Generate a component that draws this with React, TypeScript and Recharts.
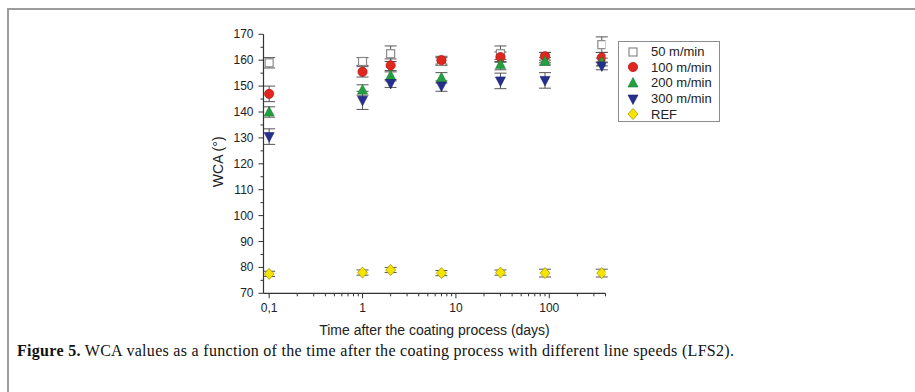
import React from 'react';
import { ScatterChart, Scatter, XAxis, YAxis, ErrorBar, Legend } from 'recharts';

// days after coating (log axis)
const days = [0.1, 1, 2, 7, 30, 90, 365];

const wca50 = [159, 159.5, 162.5, 159.5, 162.5, 161, 166];
const err50 = [2, 1.5, 3, 1.5, 3, 2, 3];
const wca100 = [147, 155.5, 158, 160, 161.2, 161.5, 161];
const err100 = [3, 2, 2.5, 1.5, 2, 1.5, 2];
const wca200 = [140, 148.5, 154, 153.2, 158.3, 159.6, 159.3];
const err200 = [2, 2, 2, 2, 2, 1.5, 1.5];
const wca300 = [130.5, 144.5, 151, 150, 152, 152.2, 157.8];
const err300 = [3, 3.5, 1.5, 2, 3, 3, 1.5];
const wcaRef = [77.5, 78, 79, 77.8, 78, 77.8, 77.8];
const errRef = [1, 1, 1, 1, 1, 1.5, 1.5];

const seriesNames = ['50 m/min', '100 m/min', '200 m/min', '300 m/min', 'REF'];

const xMajor = [0.1, 1, 10, 100];
const xMajorLabels = ['0,1', '1', '10', '100'];
const xMinor = [0.2, 0.3, 0.4, 0.5, 0.6, 0.7, 0.8, 0.9, 2, 3, 4, 5, 6, 7, 8, 9, 20, 30, 40, 50, 60, 70, 80, 90, 200, 300, 400];
const yTicks = [70, 75, 80, 85, 90, 95, 100, 105, 110, 115, 120, 125, 130, 135, 140, 145, 150, 155, 160, 165, 170];

const FONT = '"Liberation Sans", Arial, sans-serif';
const AXIS = '#333';

const build = (vals: number[], errs: number[]) =>
  days.map((d, i) => ({ x: d, y: vals[i], e: errs[i] }));

const Square = ({ cx, cy }: any) => (
  <rect x={cx - 4} y={cy - 4} width={8} height={8} fill="#fff" stroke="#8a8a8a" strokeWidth={1.2} />
);
const Dot = ({ cx, cy }: any) => (
  <circle cx={cx} cy={cy} r={4.6} fill="#e1251f" stroke="#b71c17" strokeWidth={0.8} />
);
const TriUp = ({ cx, cy }: any) => (
  <polygon points={`${cx},${cy - 5.5} ${cx + 5},${cy + 4} ${cx - 5},${cy + 4}`} fill="#22a040" stroke="#17802f" strokeWidth={0.6} />
);
const TriDown = ({ cx, cy }: any) => (
  <polygon points={`${cx},${cy + 5.5} ${cx + 5},${cy - 4} ${cx - 5},${cy - 4}`} fill="#262f8e" stroke="#1a2170" strokeWidth={0.6} />
);
const Diamond = ({ cx, cy }: any) => (
  <polygon points={`${cx},${cy - 5.5} ${cx + 5},${cy} ${cx},${cy + 5.5} ${cx - 5},${cy}`} fill="#f5e300" stroke="#a89b00" strokeWidth={0.8} />
);

const shapes = [Square, Dot, TriUp, TriDown, Diamond];

const XTick = ({ x, y, payload }: any) => {
  const idx = xMajor.indexOf(payload.value);
  const major = idx >= 0;
  return (
    <g>
      <line x1={x} x2={x} y1={y} y2={y + (major ? 5 : 3)} stroke={AXIS} />
      {major && (
        <text x={x} y={y + 19} textAnchor="middle" fontFamily={FONT} fontSize={12} fill="#222">
          {xMajorLabels[idx]}
        </text>
      )}
    </g>
  );
};

const YTick = ({ x, y, payload }: any) => {
  const major = payload.value % 10 === 0;
  return (
    <g>
      <line x1={x} x2={x - (major ? 5 : 3)} y1={y} y2={y} stroke={AXIS} />
      {major && (
        <text x={x - 10} y={y + 4} textAnchor="end" fontFamily={FONT} fontSize={12} fill="#222">
          {payload.value}
        </text>
      )}
    </g>
  );
};

const LegendBox = () => (
  <div
    style={{
      border: '1px solid #8c8c8c',
      width: 102,
      height: 81,
      boxSizing: 'border-box',
      background: '#fff',
      fontFamily: FONT,
      fontSize: 13,
      color: '#222',
      paddingTop: 2,
    }}
  >
    {seriesNames.map((name, i) => {
      const Shape = shapes[i];
      return (
        <div key={name} style={{ display: 'flex', alignItems: 'center', height: 15.6 }}>
          <svg width={32} height={14} style={{ flex: 'none' }}>
            <Shape cx={14} cy={7} />
          </svg>
          <span style={{ lineHeight: '15px' }}>{name}</span>
        </div>
      );
    })}
  </div>
);

export default function App() {
  const data = [
    build(wca50, err50),
    build(wca100, err100),
    build(wca200, err200),
    build(wca300, err300),
    build(wcaRef, errRef),
  ];

  return (
    <div style={{ position: 'absolute', left: 0, top: 0, width: 915, height: 392, background: '#fff' }}>
      <div
        style={{
          position: 'absolute',
          left: 7,
          top: 8,
          width: 908,
          height: 384,
          borderTop: '2px solid #9c9c9c',
          borderLeft: '2px solid #9c9c9c',
          boxSizing: 'border-box',
        }}
      />
      <div style={{ position: 'absolute', left: 0, top: 0 }}>
        <ScatterChart width={915} height={392} margin={{ top: 34.3, right: 309.5, bottom: 68.7, left: 219.5 }}>
          <XAxis
            type="number"
            dataKey="x"
            scale="log"
            domain={[0.087, 400]}
            allowDataOverflow
            ticks={[...xMajor, ...xMinor]}
            interval={0}
            tickSize={0}
            tickMargin={0}
            tickLine={false}
            tick={<XTick />}
            height={30}
            axisLine={{ stroke: AXIS, strokeWidth: 1.2 }}
            label={{
              content: ({ viewBox }: any) => (
                <text
                  x={viewBox.x + viewBox.width / 2}
                  y={viewBox.y + 37}
                  textAnchor="middle"
                  dominantBaseline="central"
                  fontFamily={FONT}
                  fontSize={14}
                  fill="#222"
                >
                  Time after the coating process (days)
                </text>
              ),
            }}
          />
          <YAxis
            type="number"
            dataKey="y"
            domain={[70, 170]}
            ticks={yTicks}
            interval={0}
            tickSize={0}
            tickMargin={0}
            tickLine={false}
            tick={<YTick />}
            width={44}
            axisLine={{ stroke: AXIS, strokeWidth: 1.2 }}
            label={{
              content: ({ viewBox }: any) => {
                const cx = viewBox.x - 1.5;
                const cy = viewBox.y + viewBox.height / 2 - 2;
                return (
                  <text
                    x={cx}
                    y={cy}
                    textAnchor="middle"
                    dominantBaseline="central"
                    transform={`rotate(-90, ${cx}, ${cy})`}
                    fontFamily={FONT}
                    fontSize={14}
                    fill="#222"
                  >
                    WCA (°)
                  </text>
                );
              },
            }}
          />
          <Legend
            layout="vertical"
            align="center"
            verticalAlign="middle"
            content={<LegendBox />}
            wrapperStyle={{ position: 'absolute', left: 618, top: 41, width: 102, bottom: 'auto', right: 'auto' }}
          />
          {data.map((d, i) => {
            const Shape = shapes[i];
            return (
              <Scatter
                key={seriesNames[i]}
                name={seriesNames[i]}
                data={d}
                isAnimationActive={false}
                shape={(p: any) => <Shape cx={p.cx} cy={p.cy} />}
              >
                <ErrorBar dataKey="e" direction="y" width={6} stroke="#555" strokeWidth={1} />
              </Scatter>
            );
          })}
        </ScatterChart>
      </div>
      <div
        style={{
          position: 'absolute',
          left: 17,
          top: 342,
          fontFamily: '"Liberation Serif", "Times New Roman", serif',
          fontSize: 16,
          letterSpacing: 0.3,
          color: '#111',
          whiteSpace: 'nowrap',
        }}
      >
        <b>Figure 5.</b> WCA values as a function of the time after the coating process with different line speeds (LFS2).
      </div>
    </div>
  );
}
